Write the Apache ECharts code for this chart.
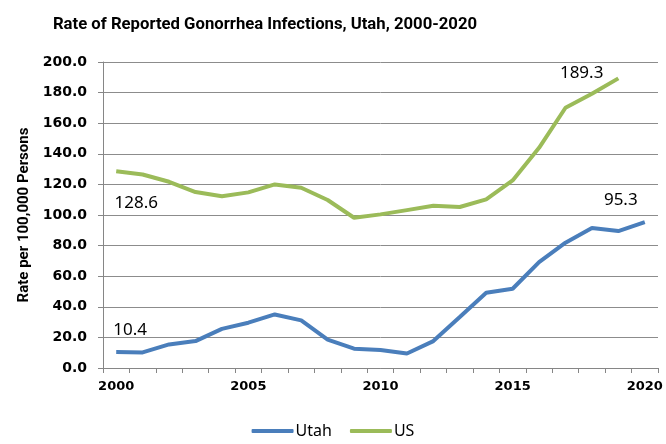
<!DOCTYPE html>
<html>
<head>
<meta charset="utf-8">
<script src="https://cdn.jsdelivr.net/npm/echarts@6/dist/echarts.min.js"></script>
<style>
html, body { margin: 0; padding: 0; background: #fff; }
#Echarts1 { width: 666px; height: 444px; }
</style>
</head>
<body>
<div id="Echarts1"></div>
<script>
'use strict';
// 年份
var years = ['2000','2001','2002','2003','2004','2005','2006','2007','2008','2009','2010',
    '2011','2012','2013','2014','2015','2016','2017','2018','2019','2020'];
var utahValues = [10.4, 10.2, 15.4, 17.6, 25.6, 29.6, 35.0, 31.1, 18.5, 12.6, 11.7,
    9.5, 17.6, 33.3, 49.2, 51.8, 69.2, 81.9, 91.5, 89.5, 95.3];
var usValues = [128.6, 126.5, 121.7, 115.0, 112.2, 114.8, 120.0, 117.8, 109.8, 98.2, 100.4,
    103.2, 106.0, 105.2, 110.2, 122.6, 143.9, 170.1, 179.2, 189.3, null];
var yTicks = [0, 20, 40, 60, 80, 100, 120, 140, 160, 180, 200];

var myChart1 = echarts.init(document.getElementById('Echarts1'));

var labelFont = { fontFamily: 'Noto Sans', fontSize: 17, color: '#000' };
function fmt(p) { return p.value.toFixed(1); }

// 只给首尾点加数值标签
function withLabels(values, lastIdx, firstPos, lastPos) {
    return values.map(function (v, i) {
        if (i === 0) return { value: v, label: Object.assign({ show: true, formatter: fmt }, labelFont, firstPos) };
        if (i === lastIdx) return { value: v, label: Object.assign({ show: true, formatter: fmt }, labelFont, lastPos) };
        return v;
    });
}

var option = {
    color: ['#4a7ebb', '#9bbb59'],
    animation: false,
    title: {
        text: 'Rate of Reported Gonorrhea Infections, Utah, 2000-2020',
        left: 260,
        textAlign: 'center',
        top: 11,
        textStyle: { fontFamily: 'Roboto', fontWeight: 'bold', fontSize: 16.7, color: '#000' }
    },
    legend: {
        bottom: 0,
        left: 'center',
        itemWidth: 42,
        itemHeight: 4,
        itemGap: 18,
        selectedMode: false,
        icon: 'roundRect',
        textStyle: { fontFamily: 'Noto Sans', fontSize: 16, color: '#000', padding: [0, 0, 0, -3] },
        data: ['Utah', 'US']
    },
    grid: {
        left: 103,
        right: 8,
        top: 62,
        bottom: 76
    },
    xAxis: {
        type: 'category',
        data: years,
        boundaryGap: true,
        axisLine: { show: true, lineStyle: { color: '#868686', width: 1 } },
        axisTick: { show: true, interval: 0, length: 5, lineStyle: { color: '#868686' } },
        axisLabel: {
            interval: function (i) { return i % 5 === 0; },
            margin: 12,
            fontFamily: 'DejaVu Sans',
            fontWeight: 'bold',
            fontSize: 13,
            color: '#000'
        },
        splitLine: { show: false }
    },
    yAxis: {
        type: 'value',
        min: yTicks[0],
        max: yTicks[yTicks.length - 1],
        interval: 20,
        name: 'Rate per 100,000 Persons',
        nameLocation: 'middle',
        nameGap: 66,
        nameTextStyle: { fontFamily: 'Roboto', fontWeight: 'bold', fontSize: 15, color: '#000' },
        axisLine: { show: true, lineStyle: { color: '#868686', width: 1 } },
        axisTick: { show: true, length: 5, lineStyle: { color: '#868686' } },
        axisLabel: {
            formatter: function (v) { return v.toFixed(1); },
            margin: 16,
            fontFamily: 'DejaVu Sans',
            fontWeight: 'bold',
            fontSize: 14,
            color: '#000'
        },
        splitLine: { show: true, lineStyle: { color: '#8c8c8c', width: 1 } }
    },
    series: [
        {
            name: 'Utah',
            type: 'line',
            symbol: 'circle',
            symbolSize: 0,
            showAllSymbol: true,
            lineStyle: { width: 4, color: '#4a7ebb' },
            data: withLabels(utahValues, utahValues.length - 1,
                { position: 'top', offset: [14, -8] },
                { position: 'top', offset: [-24, -9] })
        },
        {
            name: 'US',
            type: 'line',
            symbol: 'circle',
            symbolSize: 0,
            showAllSymbol: true,
            lineStyle: { width: 4, color: '#9bbb59' },
            data: withLabels(usValues, 19,
                { position: 'bottom', offset: [20, 18] },
                { position: 'left', offset: [-10, -5] })
        }
    ]
};
myChart1.setOption(option);
</script>
</body>
</html>
